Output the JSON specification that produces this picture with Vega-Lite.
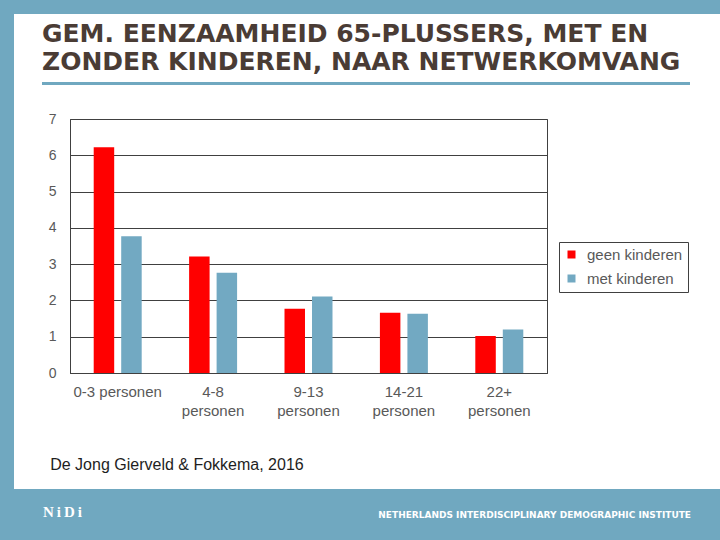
{
  "$schema": "https://vega.github.io/schema/vega-lite/v6.json",
  "padding": 0,
  "background": "white",
  "spacing": 0,
  "config": {
    "view": {"stroke": null},
    "font": "Liberation Sans",
    "concat": {"spacing": 0}
  },
  "datasets": {
    "bars": [
      {"omvang": "0-3 personen", "groep": "geen kinderen", "waarde": 6.22},
      {"omvang": "0-3 personen", "groep": "met kinderen", "waarde": 3.77},
      {"omvang": "4-8 personen", "groep": "geen kinderen", "waarde": 3.21},
      {"omvang": "4-8 personen", "groep": "met kinderen", "waarde": 2.76},
      {"omvang": "9-13 personen", "groep": "geen kinderen", "waarde": 1.77},
      {"omvang": "9-13 personen", "groep": "met kinderen", "waarde": 2.11},
      {"omvang": "14-21 personen", "groep": "geen kinderen", "waarde": 1.66},
      {"omvang": "14-21 personen", "groep": "met kinderen", "waarde": 1.63},
      {"omvang": "22+ personen", "groep": "geen kinderen", "waarde": 1.02},
      {"omvang": "22+ personen", "groep": "met kinderen", "waarde": 1.2}
    ],
    "leeg": []
  },
  "vconcat": [
    {
      "spacing": 0,
      "hconcat": [
        {
          "width": 14, "height": 489,
          "view": {"fill": "#70a8c0", "stroke": null},
          "data": {"name": "leeg"},
          "mark": {"type": "point", "opacity": 0},
          "encoding": {}
        },
        {
          "spacing": 0,
          "vconcat": [
            {
              "width": 706, "height": 14,
              "view": {"fill": "#70a8c0", "stroke": null},
              "data": {"name": "leeg"},
              "mark": {"type": "point", "opacity": 0},
              "encoding": {}
            },
            {
              "width": 1, "height": 8,
              "data": {"name": "leeg"},
              "mark": {"type": "point", "opacity": 0},
              "encoding": {}
            },
            {
              "spacing": 0,
              "hconcat": [
                {
                  "width": 28, "height": 1,
                  "data": {"name": "leeg"},
                  "mark": {"type": "point", "opacity": 0},
                  "encoding": {}
                },
                {
                  "width": 648, "height": 3,
                  "view": {"fill": "#70a8c0", "stroke": null},
                  "data": {"name": "leeg"},
                  "mark": {"type": "point", "opacity": 0},
                  "encoding": {},
                  "title": {
                    "text": ["GEM. EENZAAMHEID 65-PLUSSERS, MET EN", "ZONDER KINDEREN, NAAR NETWERKOMVANG"],
                    "anchor": "start",
                    "frame": "group",
                    "font": "DejaVu Sans",
                    "fontWeight": "bold",
                    "fontSize": 25,
                    "lineHeight": 28,
                    "color": "#4a3c35",
                    "offset": 7
                  }
                }
              ]
            },
            {
              "width": 1, "height": 26,
              "data": {"name": "leeg"},
              "mark": {"type": "point", "opacity": 0},
              "encoding": {}
            },
            {
              "spacing": 0,
              "hconcat": [
                {
                  "width": 33, "height": 1,
                  "data": {"name": "leeg"},
                  "mark": {"type": "point", "opacity": 0},
                  "encoding": {}
                },
                {
                  "width": 477,
                  "height": 254,
                  "data": {"name": "bars"},
                  "view": {"stroke": "#404040", "strokeWidth": 1},
                  "title": {
                    "text": "De Jong Gierveld & Fokkema, 2016",
                    "orient": "bottom",
                    "anchor": "start",
                    "font": "Liberation Sans",
                    "fontSize": 16,
                    "fontWeight": "normal",
                    "color": "#1e1e1e",
                    "offset": 39,
                    "dx": 2
                  },
                  "mark": {"type": "bar"},
                  "encoding": {
                    "x": {
                      "field": "omvang", "type": "nominal", "sort": null,
                      "scale": {"paddingInner": 0, "paddingOuter": 0},
                      "axis": {
                        "title": null,
                        "labelAngle": 0,
                        "labelExpr": "datum.value == '0-3 personen' ? datum.value : split(datum.value, ' ')",
                        "labelFontSize": 15,
                        "labelColor": "#595959",
                        "labelLineHeight": 19,
                        "labelPadding": 11,
                        "ticks": false,
                        "domainColor": "#404040",
                        "grid": false
                      }
                    },
                    "xOffset": {
                      "field": "groep", "type": "nominal",
                      "sort": ["geen kinderen", "met kinderen"],
                      "scale": {"paddingInner": 0.255, "paddingOuter": 0.862}
                    },
                    "y": {
                      "field": "waarde", "type": "quantitative",
                      "scale": {"domain": [0, 7], "nice": false},
                      "axis": {
                        "title": null,
                        "values": [0, 1, 2, 3, 4, 5, 6, 7],
                        "labelFontSize": 14,
                        "labelColor": "#595959",
                        "labelPadding": 14,
                        "ticks": false,
                        "grid": true,
                        "gridColor": "#404040",
                        "gridOpacity": 1,
                        "domainColor": "#404040"
                      }
                    },
                    "color": {
                      "field": "groep", "type": "nominal",
                      "scale": {"domain": ["geen kinderen", "met kinderen"], "range": ["#ff0000", "#72a9c2"]},
                      "legend": {
                        "title": null,
                        "orient": "none",
                        "legendX": 559,
                        "legendY": 242,
                        "strokeColor": "#404040",
                        "fillColor": "white",
                        "padding": 5,
                        "symbolType": "square",
                        "symbolSize": 64,
                        "symbolStrokeWidth": 0,
                        "labelFontSize": 15,
                        "labelColor": "#595959",
                        "labelOffset": 8,
                        "rowPadding": 8
                      }
                    }
                  }
                }
              ]
            }
          ]
        }
      ]
    },
    {
      "spacing": 0,
      "hconcat": [
        {
          "width": 43, "height": 51,
          "view": {"fill": "#70a8c0", "stroke": null},
          "data": {"name": "leeg"},
          "mark": {"type": "point", "opacity": 0},
          "encoding": {}
        },
        {
          "width": 57, "height": 51,
          "view": {"fill": "#70a8c0", "stroke": null},
          "data": {"name": "leeg"},
          "mark": {"type": "point", "opacity": 0},
          "encoding": {},
          "title": {
            "text": "N\u2009i\u2009D\u2009i",
            "orient": "top",
            "anchor": "start",
            "frame": "group",
            "font": "Liberation Serif",
            "fontWeight": "bold",
            "fontSize": 15,
            "color": "white",
            "baseline": "alphabetic",
            "offset": -43
          }
        },
        {
          "width": 591, "height": 51,
          "view": {"fill": "#70a8c0", "stroke": null},
          "data": {"name": "leeg"},
          "mark": {"type": "point", "opacity": 0},
          "encoding": {},
          "title": {
            "text": "NETHERLANDS INTERDISCIPLINARY DEMOGRAPHIC INSTITUTE",
            "orient": "top",
            "anchor": "end",
            "frame": "group",
            "font": "DejaVu Sans",
            "fontWeight": "bold",
            "fontSize": 9,
            "color": "white",
            "baseline": "alphabetic",
            "offset": -38
          }
        },
        {
          "width": 29, "height": 51,
          "view": {"fill": "#70a8c0", "stroke": null},
          "data": {"name": "leeg"},
          "mark": {"type": "point", "opacity": 0},
          "encoding": {}
        }
      ]
    }
  ]
}
